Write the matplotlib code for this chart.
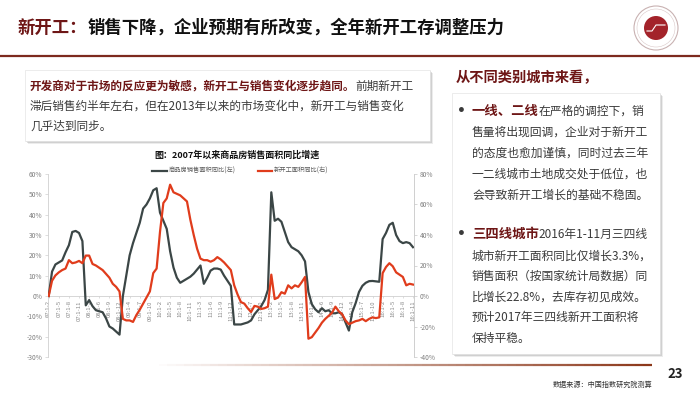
import numpy as np
import matplotlib.pyplot as plt
from matplotlib.patches import Rectangle, Circle
from matplotlib.collections import LineCollection

plt.rcParams['font.family'] = ['Noto Sans CJK SC', 'DejaVu Sans']

W, H = 700, 393

# categories: cumulative months 1-2 ... 1-12 for 2007-2015, 2016 up to 1-11
years = ['07', '08', '09', '10', '11', '12', '13', '14', '15', '16']
cats = []
for yy in years:
    last = 11 if yy == '16' else 12
    for m in range(2, last + 1):
        cats.append(f"{yy}:1-{m}")

# 商品房销售面积同比 (left axis, %)
sales = [0, 12, 15.5, 16.5, 17.5, 21.5, 25, 31.5, 32, 31, 27,
         -4.6, -2, -5, -7, -7.5, -8, -11, -15, -16, -17.5,
         -19, 0, 10, 20, 26, 31, 36, 43, 45, 48, 52,
         53, 41, 37, 33, 22, 14, 9, 6.5, 7.5, 8.5, 9.5,
         11, 13, 15, 6, 9, 12.5, 13.5, 13.5, 13, 10, 7.5,
         5, -14, -14, -14, -13.5, -13, -12, -9, -7, -5, -2,
         3, 51, 37, 38, 36.5, 31.5, 26.5, 24, 23, 22, 20,
         17, 2, -4, -6.5, -8, -6, -7.5, -7, -8.5, -8.5, -8,
         -9, -13, -17, -8, -3.5, 2, 5, 6.5, 7.3, 7.4, 7.2,
         7, 28, 31, 35, 36, 30, 27, 26, 26.5, 26, 24]

# 新开工面积同比 (right axis, %)
starts = [0, 10, 13.5, 15.5, 17, 18, 23.5, 21.5, 22, 23, 21.5,
          26.5, 26.5, 21, 20, 18.5, 17, 14.5, 12, 8, 6,
          3, -15, -16, -16, -17, -12.5, -9, -5, -1, 3, 15,
          18, 42, 61, 64, 73, 68, 67, 66, 64, 62, 50,
          40, 31, 24.5, 23.5, 23.5, 22.5, 23.5, 25.5, 24, 22, 19.5,
          17, 7, 1, -4, -5, -8, -10.5, -6.5, -7, -8.5, -8,
          -7, 14, -2, -1, 2.5, 1.5, 7, 5, 7, 6, 9,
          12.5, -28, -27, -24, -21, -17.5, -15, -13, -11, -7, -10,
          -12, -16, -18.5, -17.5, -16.5, -16, -15, -16.5, -15, -14, -14.5,
          -14, 15, 19, 21.5, 19.5, 15.5, 14, 12.5, 7, 8, 7.5]

DARKRED = '#6e1616'
BODY = '#3a3a3a'

fig = plt.figure(figsize=(W / 100, H / 100), dpi=100)
fig.patch.set_facecolor('white')

# overlay axes in pixel coordinates for slide decoration
bg = fig.add_axes([0, 0, 1, 1])
bg.set_xlim(0, W)
bg.set_ylim(H, 0)
bg.axis('off')
bg.patch.set_visible(False)
r = fig.canvas.get_renderer()


def rich(x, y, parts):
    for s, color, weight, fs in parts:
        t = bg.text(x, y, s, fontsize=fs, color=color, fontweight=weight,
                    va='center', ha='left')
        x += t.get_window_extent(r).width
    return x


def shadow_box(x0, y0, x1, y1):
    for d, a in [(3, 0.15), (2, 0.25), (1, 0.35)]:
        bg.add_patch(Rectangle((x0 + d, y0 + d), x1 - x0, y1 - y0,
                               facecolor='#808080', edgecolor='none', alpha=a))
    bg.add_patch(Rectangle((x0, y0), x1 - x0, y1 - y0,
                           facecolor='white', edgecolor='#e4e4e4', lw=0.5))


# title
rich(18, 28, [("新开工：", DARKRED, 'bold', 12.5),
              ("销售下降，企业预期有所改变，全年新开工存调整压力", '#111111', 'bold', 12.5)])
bg.plot([0, W], [56, 56], color='#7d2a1e', lw=1.6)

# logo
bg.add_patch(Circle((656, 28), 22, facecolor='white', edgecolor='#c9b2b2', lw=0.8))
bg.add_patch(Circle((656, 28), 19, facecolor='none', edgecolor='#d9c8c8', lw=0.4))
bg.add_patch(Circle((656, 28), 12, facecolor='#a3232a', edgecolor='none'))
bg.plot([647, 652, 656, 660, 665], [31, 31, 25, 25, 25], color='white', lw=0.8)

# left text box
shadow_box(25, 70, 430, 141)
rich(30, 86, [("开发商对于市场的反应更为敏感，新开工与销售变化逐步趋同。", DARKRED, 'bold', 8.4),
              ("前期新开工", BODY, 'normal', 8.4)])
rich(30, 106, [("滞后销售约半年左右，但在2013年以来的市场变化中，新开工与销售变化", BODY, 'normal', 8.4)])
rich(30, 126, [("几乎达到同步。", BODY, 'normal', 8.4)])

# right text panel
rich(456, 78, [("从不同类别城市来看，", DARKRED, 'bold', 10.3)])
shadow_box(452, 93, 660, 354)
lines1 = ["售量将出现回调，企业对于新开工",
          "的态度也愈加谨慎，同时过去三年",
          "一二线城市土地成交处于低位，也",
          "会导致新开工增长的基础不稳固。"]
lines2 = ["城市新开工面积同比仅增长3.3%，",
          "销售面积（按国家统计局数据）同",
          "比增长22.8%，去库存初见成效。",
          "预计2017年三四线新开工面积将",
          "保持平稳。"]
bg.text(461, 111, "•", fontsize=10, fontweight='bold', color=BODY,
        va='center', ha='center', family='DejaVu Sans')
rich(472, 111, [("一线、二线", DARKRED, 'bold', 9.6), ("在严格的调控下，销", BODY, 'normal', 8.5)])
for k, s in enumerate(lines1):
    rich(472, 132 + 21 * k, [(s, BODY, 'normal', 8.5)])
bg.text(461, 234, "•", fontsize=10, fontweight='bold', color=BODY,
        va='center', ha='center', family='DejaVu Sans')
rich(472, 234, [("三四线城市", DARKRED, 'bold', 9.6), ("2016年1-11月三四线", BODY, 'normal', 8.5)])
for k, s in enumerate(lines2):
    rich(472, 256 + 20.6 * k, [(s, BODY, 'normal', 8.5)])

# bottom rule with fade-in
xs = np.linspace(150, 652, 60)
segs = [[(xs[i], 365), (xs[i + 1], 365)] for i in range(len(xs) - 1)]
cols = [(0.55, 0.22, 0.1, a) for a in np.linspace(0.0, 1.0, len(segs))]
bg.add_collection(LineCollection(segs, colors=cols, lw=1.6))
bg.text(667, 374, "23", fontsize=9.5, fontweight='bold', color='#222222', va='center')
bg.text(553, 385, "数据来源：中国指数研究院测算", fontsize=5.1, color='#333333', va='center')

# chart title & legend
bg.text(237, 155, "图：2007年以来商品房销售面积同比增速", fontsize=6.5, fontweight='bold',
        color='#111111', ha='center', va='center')
bg.plot([152, 167], [171, 171], color='#3b4646', lw=1.6)
bg.text(169, 171, "商品房销售面积同比(左)", fontsize=4.5, color='#595959', va='center')
bg.plot([258, 272], [171, 171], color='#e03c1c', lw=1.6)
bg.text(274, 171, "新开工面积同比(右)", fontsize=4.5, color='#595959', va='center')

# chart
x = np.arange(len(cats))
ax = fig.add_axes([48 / W, 1 - 357 / H, (414 - 48) / W, (357 - 174) / H])
ax.patch.set_visible(False)
ax.plot(x, sales, color='#3b4646', lw=1.6, zorder=3)
ax.set_xlim(-0.2, len(cats) - 0.7)
ax.set_ylim(-30, 60)
ax.set_yticks(range(-30, 61, 10))
ax.set_yticklabels([f"{v}%" for v in range(-30, 61, 10)])
ax.set_xticks(x[::3])
ax.set_xticklabels(cats[::3])
ax.spines['top'].set_visible(False)
ax.spines['right'].set_visible(False)
ax.spines['left'].set_color('#d0d0d0')
ax.spines['left'].set_linewidth(0.6)
ax.spines['bottom'].set_position(('data', 0))
ax.spines['bottom'].set_color('#d0d0d0')
ax.spines['bottom'].set_linewidth(0.6)
ax.tick_params(axis='y', labelsize=4.8, colors='#d0d0d0', labelcolor='#7f7f7f',
               length=2, width=0.5, pad=2)
ax.tick_params(axis='x', labelsize=4.3, colors='#d0d0d0', labelcolor='#8a8a8a',
               length=1.5, width=0.5, pad=1.5, labelrotation=90)

ax2 = ax.twinx()
ax2.plot(x, starts, color='#e03c1c', lw=1.6, zorder=3)
ax2.set_ylim(-40, 80)
ax2.set_yticks(range(-40, 81, 20))
ax2.set_yticklabels([f"{v}%" for v in range(-40, 81, 20)])
for s in ['top', 'left', 'bottom']:
    ax2.spines[s].set_visible(False)
ax2.spines['right'].set_color('#c8c8c8')
ax2.spines['right'].set_linewidth(0.6)
ax2.tick_params(axis='y', labelsize=4.8, colors='#c8c8c8', labelcolor='#7f7f7f',
                length=2, width=0.5, pad=2)

fig.savefig('out.png', dpi=100, facecolor='white')
